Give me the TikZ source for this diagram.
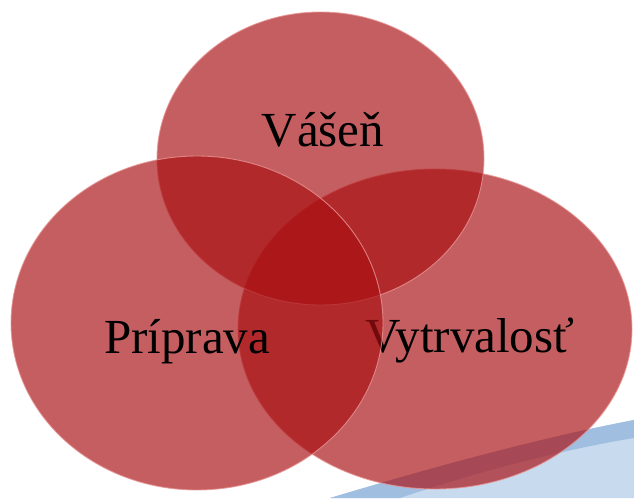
\documentclass[tikz,border=0pt]{standalone}
\usepackage{fontspec}
\setmainfont{Liberation Serif}
\usepackage{xcolor}
\definecolor{vred}{RGB}{169,15,18}
\definecolor{vedge}{RGB}{232,150,150}
\definecolor{swooshlight}{RGB}{200,218,238}
\definecolor{swooshdark}{RGB}{160,190,224}

\tikzset{
	bubble/.style={fill=vred, fill opacity=0.67, draw=vedge, draw opacity=0.8, line width=0.9pt},
	bubbletext/.style={font=\fontsize{49}{54}\selectfont, text=black, inner sep=0pt, anchor=base}
}

\begin{document}
\begin{tikzpicture}[x=1pt, y=-1pt]
	\useasboundingbox (0,0) rectangle (634,498);
	
	% slide decoration in the corner
	\fill[swooshlight] (330,498) .. controls (450,462) and (550,436) .. (634,420) -- (634,498) -- cycle;
	\fill[swooshdark] (330,498) .. controls (450,462) and (550,436) .. (634,420) -- (634,438) .. controls (560,450) and (470,474) .. (400,498) -- cycle;
	
	\draw[bubble] (435,329) ellipse (197 and 160);
	\node[bubbletext] (vytrvalost) at (470,352) {Vytrvalosť};
	
	\draw[bubble] (320.5,158.5) ellipse (163.5 and 146.5);
	\node[bubbletext] (vasen) at (323,146) {Vášeň};
	
	\draw[bubble] (197,323) ellipse (186 and 167);
	\node[bubbletext] (priprava) at (187,353) {Príprava};
	
\end{tikzpicture}
\end{document}
